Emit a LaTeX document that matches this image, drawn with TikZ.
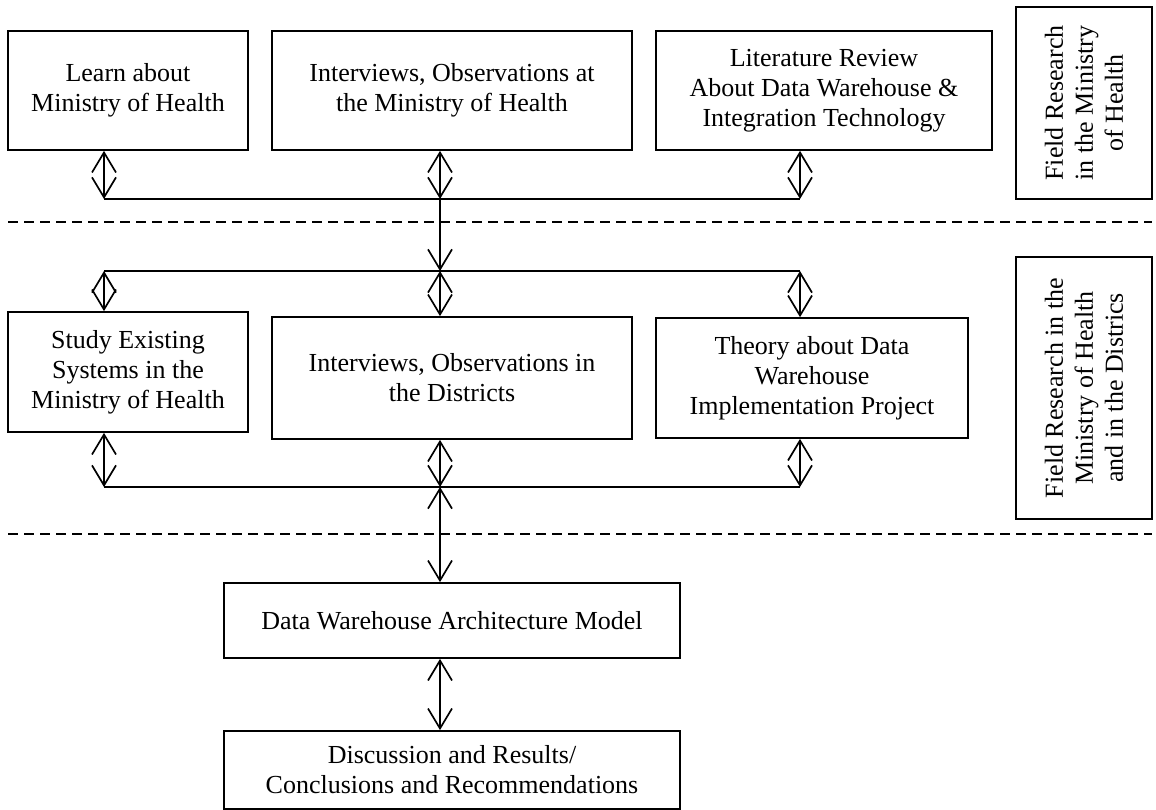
\documentclass[tikz,border=0pt]{standalone}
\usepackage{fontspec}
\setmainfont{Liberation Serif}
\usetikzlibrary{arrows.meta}

\begin{document}
\begin{tikzpicture}[x=1pt,y=-1pt,line width=1.7pt,
  every node/.style={font=\fontsize{26}{30}\selectfont},
  box/.style={draw,rectangle,inner sep=0pt,align=center},
  sidebox/.style={box,rotate=90},
  barb/.tip={Straight Barb[length=20pt,width=24pt,line width=1.7pt]},
  dbl/.style={barb-barb},
  one/.style={-barb},
  sep/.style={dash pattern=on 10pt off 6pt}]
\useasboundingbox (0,0) rectangle (1156,810);

% upper phase
\node[box,minimum width=240pt,minimum height=119pt] (learn) at (128,90.5)
  {Learn about\\Ministry of Health};
\node[box,minimum width=360pt,minimum height=119pt] (intmoh) at (452,90.5)
  {Interviews, Observations at\\the Ministry of Health};
\node[box,minimum width=336pt,minimum height=119pt] (lit) at (824,90.5)
  {Literature Review\\About Data Warehouse \&\\Integration Technology};
\node[sidebox,minimum width=192pt,minimum height=136pt] (phase1) at (1084,103)
  {Field Research\\in the Ministry\\of Health};

% middle phase
\node[box,minimum width=240pt,minimum height=120pt] (study) at (128,372)
  {Study Existing\\Systems in the\\Ministry of Health};
\node[box,minimum width=360pt,minimum height=122pt] (intdis) at (452,378)
  {Interviews, Observations in\\the Districts};
\node[box,minimum width=312pt,minimum height=120pt] (theory) at (812,378)
  {Theory about Data\\Warehouse\\Implementation Project};
\node[sidebox,minimum width=262pt,minimum height=136pt] (phase2) at (1084,388)
  {Field Research in the\\Ministry of Health\\and in the Districs};

% final phase
\node[box,minimum width=456pt,minimum height=75pt] (model) at (452,620.5)
  {Data Warehouse Architecture Model};
\node[box,minimum width=456pt,minimum height=78pt] (disc) at (452,770)
  {Discussion and Results/\\Conclusions and Recommendations};

% bus points
\coordinate (a1) at (104,199);
\coordinate (a2) at (440,199);
\coordinate (a3) at (800,199);
\coordinate (b1) at (104,271);
\coordinate (b2) at (440,271);
\coordinate (b3) at (800,271);
\coordinate (c1) at (104,487);
\coordinate (c2) at (440,487);
\coordinate (c3) at (800,487);

% phase separators
\coordinate (s1l) at (8,222);
\coordinate (s1r) at (1152,222);
\coordinate (s2l) at (8,534);
\coordinate (s2r) at (1152,534);
\draw[sep] (s1l) -- (s1r);
\draw[sep] (s2l) -- (s2r);

% buses
\draw (a1) -- (a3);
\draw (b1) -- (b3);
\draw (c1) -- (c3);

% upper row to first bus
\draw[dbl] (a1 |- learn.south) -- (a1);
\draw[dbl] (a2 |- intmoh.south) -- (a2);
\draw[dbl] (a3 |- lit.south) -- (a3);
\draw[one] (a2) -- (b2);

% middle row
\draw[dbl] (b1) -- (b1 |- study.north);
\draw[dbl] (b2) -- (b2 |- intdis.north);
\draw[dbl] (b3) -- (b3 |- theory.north);
\draw[dbl] (c1 |- study.south) -- (c1);
\draw[dbl] (c2 |- intdis.south) -- (c2);
\draw[dbl] (c3 |- theory.south) -- (c3);

% final steps
\draw[dbl] (c2) -- (c2 |- model.north);
\draw[dbl] (c2 |- model.south) -- (c2 |- disc.north);
\end{tikzpicture}
\end{document}
